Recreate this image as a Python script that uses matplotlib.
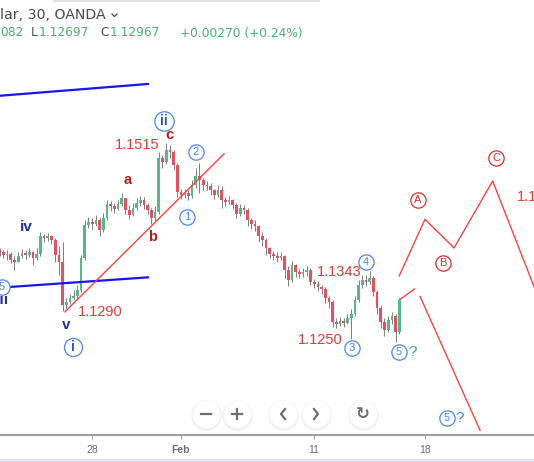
import numpy as np
import matplotlib.pyplot as plt
from matplotlib.lines import Line2D
from matplotlib.patches import Rectangle

plt.rcParams['font.family'] = ['Liberation Sans', 'DejaVu Sans']

# 4-hour candles (price, trading-day index, 0 = Feb 1)
first_open = 1.1372
closes = [1.1370, 1.1365, 1.1367, 1.1359, 1.1356, 1.1364, 1.1368, 1.1365, 1.1370, 1.1361,
          1.1367, 1.1391, 1.1388, 1.1391, 1.1386, 1.1365, 1.1356, 1.1297, 1.1301, 1.1307,
          1.1310, 1.1318, 1.1361, 1.1406, 1.1410, 1.1408, 1.1413, 1.1399, 1.1416, 1.1435,
          1.1432, 1.1428, 1.1435, 1.1443, 1.1427, 1.1420, 1.1429, 1.1436, 1.1440, 1.1433,
          1.1427, 1.1416, 1.1424, 1.1497, 1.1492, 1.1508, 1.1505, 1.1488, 1.1451, 1.1447,
          1.1450, 1.1446, 1.1461, 1.1473, 1.1467, 1.1461, 1.1459, 1.1454, 1.1447, 1.1454,
          1.1440, 1.1437, 1.1440, 1.1433, 1.1421, 1.1429, 1.1427, 1.1413, 1.1408, 1.1405,
          1.1391, 1.1386, 1.1375, 1.1367, 1.1364, 1.1361, 1.1364, 1.1345, 1.1331, 1.1352,
          1.1342, 1.1340, 1.1342, 1.1345, 1.1329, 1.1326, 1.1322, 1.1319, 1.1307, 1.1301,
          1.1274, 1.1272, 1.1276, 1.1273, 1.1280, 1.1285, 1.1304, 1.1325, 1.1331, 1.1329,
          1.1334, 1.1315, 1.1293, 1.1274, 1.1263, 1.1277, 1.1282, 1.1261, 1.1304]
highs = [1.1375, 1.1372, 1.1372, 1.1370, 1.1364, 1.1370, 1.1374, 1.1372, 1.1375, 1.1371,
         1.1375, 1.1397, 1.1394, 1.1395, 1.1393, 1.1388, 1.1378, 1.1383, 1.1307, 1.1312,
         1.1318, 1.1325, 1.1365, 1.1413, 1.1417, 1.1416, 1.1420, 1.1416, 1.1422, 1.1440,
         1.1439, 1.1436, 1.1440, 1.1450, 1.1443, 1.1433, 1.1436, 1.1443, 1.1446, 1.1444,
         1.1436, 1.1429, 1.1432, 1.1505, 1.1501, 1.1518, 1.1515, 1.1508, 1.1490, 1.1455,
         1.1455, 1.1454, 1.1467, 1.1484, 1.1490, 1.1470, 1.1466, 1.1463, 1.1455, 1.1461,
         1.1459, 1.1444, 1.1446, 1.1442, 1.1436, 1.1435, 1.1433, 1.1429, 1.1416, 1.1413,
         1.1406, 1.1397, 1.1388, 1.1376, 1.1371, 1.1370, 1.1370, 1.1365, 1.1350, 1.1357,
         1.1353, 1.1346, 1.1348, 1.1350, 1.1348, 1.1333, 1.1330, 1.1325, 1.1322, 1.1310,
         1.1304, 1.1280, 1.1281, 1.1280, 1.1285, 1.1292, 1.1310, 1.1331, 1.1338, 1.1338,
         1.1344, 1.1337, 1.1318, 1.1297, 1.1280, 1.1282, 1.1288, 1.1285, 1.1307]
lows = [1.1364, 1.1361, 1.1359, 1.1355, 1.1345, 1.1356, 1.1361, 1.1360, 1.1363, 1.1352,
        1.1359, 1.1364, 1.1383, 1.1384, 1.1380, 1.1356, 1.1338, 1.1289, 1.1292, 1.1299,
        1.1304, 1.1307, 1.1315, 1.1359, 1.1402, 1.1401, 1.1405, 1.1391, 1.1397, 1.1413,
        1.1425, 1.1422, 1.1427, 1.1432, 1.1421, 1.1414, 1.1418, 1.1427, 1.1432, 1.1428,
        1.1421, 1.1408, 1.1410, 1.1421, 1.1484, 1.1489, 1.1497, 1.1481, 1.1444, 1.1442,
        1.1443, 1.1440, 1.1443, 1.1456, 1.1450, 1.1454, 1.1454, 1.1447, 1.1442, 1.1444,
        1.1429, 1.1432, 1.1435, 1.1428, 1.1416, 1.1418, 1.1421, 1.1405, 1.1401, 1.1398,
        1.1383, 1.1378, 1.1365, 1.1361, 1.1359, 1.1356, 1.1359, 1.1334, 1.1323, 1.1329,
        1.1335, 1.1334, 1.1335, 1.1337, 1.1325, 1.1320, 1.1316, 1.1312, 1.1300, 1.1293,
        1.1268, 1.1266, 1.1269, 1.1268, 1.1272, 1.1251, 1.1282, 1.1301, 1.1320, 1.1323,
        1.1326, 1.1310, 1.1285, 1.1266, 1.1255, 1.1261, 1.1272, 1.1247, 1.1258]
start_day = -49 / 6
bar_days = 1 / 6

# drawn lines (day, price)
channel_top_x = [-8.15, -1.49]
channel_top_y = [1.1582, 1.1598]
channel_bot_x = [-8.15, -1.49]
channel_bot_y = [1.1321, 1.1335]
trend_x = [-5.23, 1.94]
trend_y = [1.1288, 1.1503]
abc_x = [9.83, 10.99, 12.30, 14.04, 16.40]
abc_y = [1.1337, 1.1414, 1.1375, 1.1466, 1.1284]
alt_up_x = [9.87, 10.51]
alt_up_y = [1.1305, 1.1319]
alt_down_x = [10.77, 13.47]
alt_down_y = [1.1309, 1.1127]

tick_days = [-4, 0, 6, 11]
tick_labels = ['28', 'Feb', '11', '18']

W, H = 534, 462
fig = plt.figure(figsize=(W / 100, H / 100), dpi=100)
ax = fig.add_axes([0, 27 / H, 1, 435 / H])
ax.set_xlim(-8.153, 15.901)
ax.set_ylim(1.11206, 1.17122)

# candles
opens = [first_open] + closes[:-1]
t = start_day + np.arange(len(closes)) * bar_days
up = np.array(closes) >= np.array(opens)
ax.vlines(t, lows, highs, color='#7d7d7d', lw=0.7, zorder=2)
body_bot = np.minimum(opens, closes)
body_h = np.maximum(np.abs(np.array(closes) - np.array(opens)), 0.00008)
ax.bar(t, body_h, bottom=body_bot, width=0.12,
       color=np.where(up, '#53b987', '#eb4d5c'), zorder=3, linewidth=0)

# drawings
ax.plot(channel_top_x, channel_top_y, color='#1515f0', lw=1.6, zorder=4)
ax.plot(channel_bot_x, channel_bot_y, color='#1515f0', lw=1.6, zorder=4)
ax.plot(trend_x, trend_y, color='#ff4040', lw=1.0, zorder=4)
ax.plot(abc_x, abc_y, color='#ff4040', lw=1.0, zorder=4)
ax.plot(alt_up_x, alt_up_y, color='#ff4040', lw=1.0, zorder=4)
ax.plot(alt_down_x, alt_down_y, color='#ff4040', lw=1.0, zorder=4)

blue_c = '#4a86e8'
navy = '#23319b'
dark_red = '#b71c1c'
red = '#e53935'


def circled(x, y, s, color, ms=11, fs=8, weight='normal', tcolor=None):
    ax.plot([x], [y], 'o', ms=ms, mfc='white', mec=color, mew=0.9, zorder=6)
    ax.text(x, y, s, color=tcolor or color, fontsize=fs, ha='center', va='center',
            fontweight=weight, zorder=7)


circled(-0.766, 1.1547, 'ii', blue_c, ms=14, fs=10, weight='bold', tcolor='#2457c5')
circled(-4.865, 1.1240, 'i', blue_c, ms=13, fs=10, weight='bold', tcolor='#2457c5')
circled(0.676, 1.1505, '2', blue_c)
circled(0.270, 1.1417, '1', blue_c)
circled(7.703, 1.1239, '3', blue_c)
circled(8.333, 1.1356, '4', blue_c)
circled(9.820, 1.1233, '5', blue_c)
circled(11.982, 1.1144, '5', blue_c)
circled(-8.077, 1.1322, '5', blue_c)
ax.text(10.45, 1.1233, '?', color=blue_c, fontsize=11, ha='center', va='center')
ax.text(12.57, 1.1144, '?', color=blue_c, fontsize=11, ha='center', va='center')

circled(10.676, 1.1440, 'A', '#d32f2f')
circled(11.802, 1.1355, 'B', '#d32f2f')
circled(14.189, 1.1497, 'C', '#d32f2f')

for s, x, y in [('iv', -6.98, 1.1403), ('v', -5.18, 1.1270)]:
    ax.text(x, y, s, color=navy, fontsize=11, fontweight='bold', ha='center', va='center')
ax.text(-7.75, 1.1304, 'iii', color=navy, fontsize=11, fontweight='bold',
        ha='right', va='center', clip_on=True)
for s, x, y in [('a', -2.387, 1.1467), ('b', -1.261, 1.1390), ('c', -0.54, 1.1529)]:
    ax.text(x, y, s, color=dark_red, fontsize=10.5, fontweight='bold', ha='center', va='center')

for s, x, y in [('1.1515', -1.98, 1.1515), ('1.1290', -3.65, 1.1288),
                ('1.1343', 7.117, 1.1342), ('1.1250', 6.26, 1.1250)]:
    ax.text(x, y, s, color=red, fontsize=10.5, ha='center', va='center', zorder=5)
ax.text(15.135, 1.1444, '1.1', color=red, fontsize=10.5, ha='left', va='center',
        clip_on=True)

# axes styling
for side in ['left', 'right', 'top']:
    ax.spines[side].set_visible(False)
ax.spines['bottom'].set_color('#9e9e9e')
ax.spines['bottom'].set_linewidth(1.5)
ax.set_yticks([])
ax.set_xticks(tick_days)
ax.set_xticklabels(tick_labels)
ax.tick_params(axis='x', length=3, color='#9e9e9e', labelsize=7.5, labelcolor='#6a6d78', pad=4)
ax.get_xticklabels()[1].set_fontweight('bold')


def fx(x):
    return x / W


def fy(y):
    return 1 - y / H


# header
head_gray = '#4a4a4a'
green = '#4caf6e'
hfont = ['DejaVu Sans']
fig.text(fx(0), fy(15), 'lar, 30, OANDA', fontsize=10.2, color=head_gray, va='center',
         family=hfont)
fig.add_artist(Line2D([fx(112), fx(114.5), fx(117)], [fy(14), fy(16.5), fy(14)],
                      color=head_gray, lw=0.9))
fig.text(fx(0), fy(33), '082', fontsize=8.8, color=green, va='center', family=hfont)
fig.text(fx(31), fy(33), 'L', fontsize=8.8, color=head_gray, va='center', family=hfont)
fig.text(fx(38.5), fy(33), '1.12697', fontsize=8.8, color=green, va='center', family=hfont)
fig.text(fx(100), fy(33), 'C', fontsize=8.8, color=head_gray, va='center', family=hfont)
fig.text(fx(110), fy(33), '1.12967', fontsize=8.8, color=green, va='center', family=hfont)
fig.text(fx(180), fy(33), '+0.00270 (+0.24%)', fontsize=8.8, color=green, va='center',
         family=hfont)
fig.add_artist(Rectangle((fx(53), fy(2)), fx(267), 2 / H, transform=fig.transFigure,
                         color='#e4e4e4', lw=0))

# navigation buttons
btn_gray = '#6a6d78'
for bx in [206, 237, 283, 316, 363]:
    fig.add_artist(Line2D([fx(bx)], [fy(415)], marker='o', ms=21, mfc='#f1f1f1',
                          mec='#f1f1f1', transform=fig.transFigure))
    fig.add_artist(Line2D([fx(bx)], [fy(414)], marker='o', ms=19, mfc='white',
                          mec='white', transform=fig.transFigure))
fig.add_artist(Line2D([fx(201), fx(211)], [fy(414), fy(414)], color=btn_gray, lw=1.6))
fig.add_artist(Line2D([fx(232), fx(242)], [fy(414), fy(414)], color=btn_gray, lw=1.6))
fig.add_artist(Line2D([fx(237), fx(237)], [fy(409), fy(419)], color=btn_gray, lw=1.6))
fig.add_artist(Line2D([fx(285), fx(281), fx(285)], [fy(409), fy(414), fy(419)],
                      color=btn_gray, lw=1.6))
fig.add_artist(Line2D([fx(314), fx(318), fx(314)], [fy(409), fy(414), fy(419)],
                      color=btn_gray, lw=1.6))
fig.text(fx(363), fy(414), '\u21bb', fontsize=12, color=btn_gray, ha='center', va='center',
         family=['DejaVu Sans'], fontweight='bold')

fig.add_artist(Rectangle((0, 0), 1, 3 / H, transform=fig.transFigure, color='#e0e3eb', lw=0))

fig.savefig('out.png', dpi=100)
